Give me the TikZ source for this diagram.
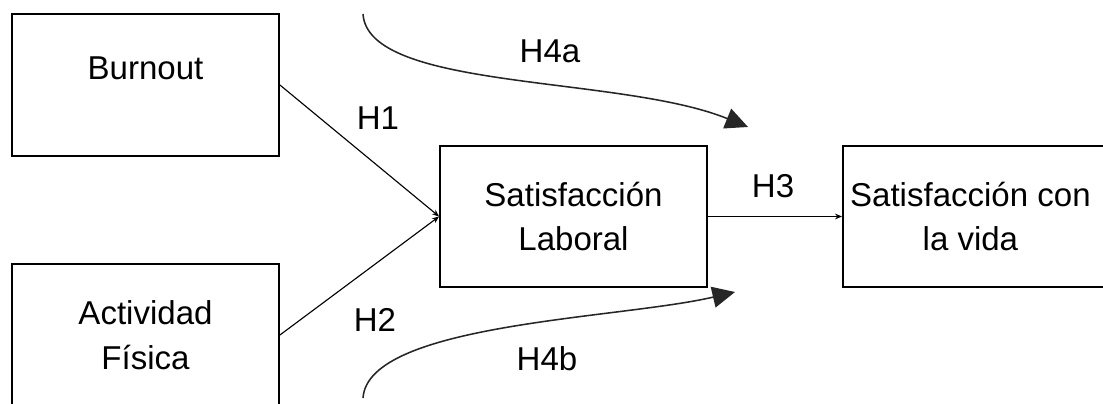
\documentclass[tikz,border=0pt]{standalone}
\usepackage{fontspec}
\setmainfont{Liberation Sans}
\usepackage{tikz}
\usetikzlibrary{arrows.meta}
\usetikzlibrary{calc}

\begin{document}
\begin{tikzpicture}[auto,
        box_style/.style={rectangle,draw=black,line width=1.3pt,minimum width=6.675cm,minimum height=3.55cm,align=center,font=\fontsize{23.5}{32}\selectfont},
        label_style/.style={font=\fontsize{23.5}{32}\selectfont},
        edge_style/.style={draw=black, line width=0.8pt,-{Stealth[length=5pt,width=4pt]}},
        curve_style/.style={draw=black!85, line width=1.1pt,-{Triangle[length=16pt,width=15pt]}}]
        \useasboundingbox (0,0) rectangle (27.575,10.075);

        \node [box_style,text depth=0.85cm](burnout) at (3.6375,7.95) {Burnout};

        \node [box_style](actividad) at (3.6375,1.7) {Actividad\\Física};

        \node [box_style,minimum height=3.525cm](satlab) at (14.3375,4.6625) {Satisfacción\\Laboral};

        \node [box_style,minimum width=6.75cm,minimum height=3.525cm](satvida) at (24.45,4.6625) {Satisfacción con\kern0.38cm\\la vida\kern0.38cm};

        \draw [edge_style] (burnout.east) -- (satlab.west);

        \draw [edge_style] (actividad.east) -- (satlab.west);

        \draw [edge_style] (satlab.east) -- (satvida.west);

        \coordinate (h4a_start) at (9.075,9.725);
        \coordinate (h4a_end) at (18.7,6.9);
        \coordinate (h4b_start) at (9.075,0.125);
        \coordinate (h4b_end) at (18.375,2.775);

        \draw [curve_style] (h4a_start) .. controls (9.2,7.8) and (15.5,8.2) .. (h4a_end);

        \draw [curve_style] (h4b_start) .. controls (9.2,2.0) and (15.5,2.1) .. (h4b_end);

        \node [label_style](h1) at (9.45,7.125) {H1};
        \node [label_style](h2) at (9.375,2.075) {H2};
        \node [label_style](h3) at (19.325,5.425) {H3};
        \node [label_style](h4a) at (13.75,8.8) {H4a};
        \node [label_style](h4b) at (13.675,1.1) {H4b};

\end{tikzpicture}
\end{document}
